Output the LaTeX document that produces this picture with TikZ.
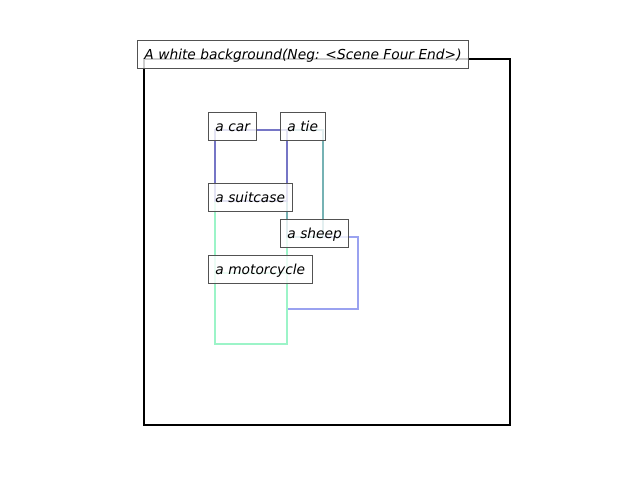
\documentclass[tikz,border=0pt]{standalone}
\usepackage{fontspec}
\setmainfont{DejaVu Sans}
\begin{document}
\begin{tikzpicture}[x=0.75pt,y=-0.75pt,
  region/.style={draw, line width=1.9pt, anchor=north west, inner sep=0pt, outer sep=0pt},
  tag/.style={draw=black!68, line width=0.7pt, fill=white, fill opacity=0.8, text opacity=1,
    anchor=west, inner xsep=5.25pt, inner ysep=0pt, minimum height=21pt,
    text height=10pt, text depth=2.5pt,
    font=\fontsize{10.33pt}{12pt}\selectfont\itshape}]
\useasboundingbox (0,0) rectangle (640,480);
\definecolor{carc}{HTML}{7676C6}
\definecolor{tiec}{HTML}{76B2B4}
\definecolor{suitc}{HTML}{9CF4C8}
\definecolor{sheepc}{HTML}{9AA2F0}
% scene
\node[region, draw=black, minimum width=274.5pt, minimum height=274.5pt] (scene) at (144,59) {};
% object boxes
\node[region, draw=suitc, minimum width=54pt, minimum height=53.25pt] (motorcycle) at (215,273) {};
\node[region, draw=sheepc, minimum width=53.25pt, minimum height=54pt] (sheep) at (287,237) {};
\node[region, draw=suitc, minimum width=54pt, minimum height=107.25pt] (suitcase) at (215,201) {};
\node[region, draw=tiec, minimum width=27pt, minimum height=80.25pt] (tie) at (287,130) {};
\node[region, draw=carc, minimum width=54pt, minimum height=53.25pt] (car) at (215,130) {};
% labels
\node[tag] (sceneL) at (137,54) {A white background(Neg: <Scene Four End>)};
\node[tag] (carL) at (208,126) {a car};
\node[tag] (tieL) at (280,126) {a tie};
\node[tag] (suitcaseL) at (208,197) {a suitcase};
\node[tag] (sheepL) at (280,233) {a sheep};
\node[tag] (motorcycleL) at (208,269) {a motorcycle};
\end{tikzpicture}
\end{document}
